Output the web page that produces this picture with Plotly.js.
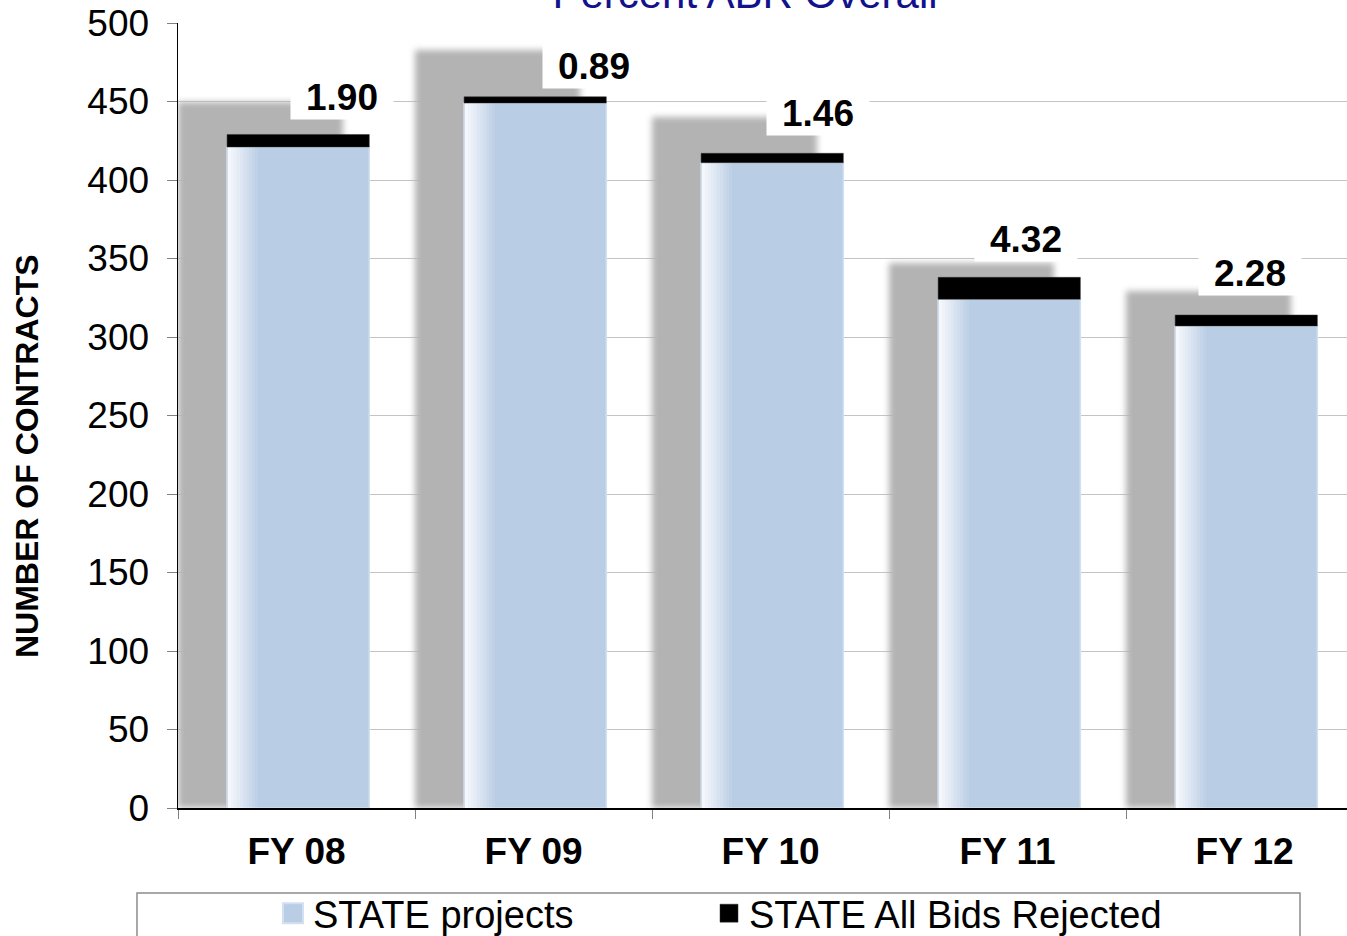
<!DOCTYPE html>
<html><head><meta charset="utf-8">
<script src="https://cdn.plot.ly/plotly-3.0.1.min.js"></script>
<style>html,body{margin:0;padding:0;background:#fff}#chart{width:1347px;height:936px}</style>
</head><body><div id="chart"></div>
<script>
// ---- data ----
const categories = ['FY 08', 'FY 09', 'FY 10', 'FY 11', 'FY 12'];
const stateProjects = [421, 449, 411, 324, 307];
const allBidsRejected = [8, 4, 6, 14, 7];
const percentLabels = ['1.90', '0.89', '1.46', '4.32', '2.28'];
const shadowHeights = [450, 483, 440, 347, 329];

// ---- layout/styling constants ----
const FONT = 'Liberation Sans, Arial, sans-serif';
const labelNudge = [[45, 37], [60, 31], [47, 40], [18, 38], [5, 42]]; // px
const totals = stateProjects.map((v, i) => v + allBidsRejected[i]);

const traces = [];
// drop shadow behind each column
traces.push({
  type: 'bar', x: categories, y: shadowHeights, offset: -0.5, width: 0.695,
  marker: {color: '#B3B3B3'}, showlegend: false, hoverinfo: 'skip'
});
// state projects
traces.push({
  type: 'bar', name: 'STATE projects', x: categories, y: stateProjects,
  offset: -0.293, width: 0.6,
  marker: {color: '#B9CDE5', line: {color: '#D3E0F1', width: 1.5}}
});
// left-edge highlight (gradient) on the state bars
const nStrips = 10, stripW = 0.0127;
for (let k = 0; k < nStrips; k++) {
  traces.push({
    type: 'bar', x: categories, y: stateProjects,
    offset: -0.293 + 0.004 + k * stripW, width: stripW,
    marker: {color: 'rgba(255,255,255,' + (0.85 * (1 - k / nStrips)).toFixed(3) + ')', line: {width: 0}},
    showlegend: false, hoverinfo: 'skip'
  });
}
// all bids rejected, stacked on top via base
traces.push({
  type: 'bar', name: 'STATE All Bids Rejected', x: categories, y: allBidsRejected,
  base: stateProjects, offset: -0.293, width: 0.6,
  marker: {color: '#000000', line: {color: '#333', width: 0.5}}
});

const annotations = categories.map((c, i) => ({
  x: c, y: totals[i], xref: 'x', yref: 'y',
  text: percentLabels[i], showarrow: false,
  xshift: labelNudge[i][0], yshift: labelNudge[i][1],
  xanchor: 'center', yanchor: 'middle',
  width: 102, height: 44, bgcolor: '#FFFFFF', borderpad: 0,
  font: {family: FONT, size: 37, color: '#000', weight: 'bold'}
}));
// y-axis title (placed like the original, below the axis centre)
annotations.push({
  xref: 'paper', yref: 'paper', x: 0, y: (808 - 456) / 785, xshift: -151,
  xanchor: 'center', yanchor: 'middle', textangle: -90, showarrow: false,
  text: 'NUMBER OF CONTRACTS',
  font: {family: FONT, size: 32, weight: 'bold', color: '#000'}
});

const layout = {
  width: 1347, height: 936,
  margin: {l: 178, r: 0, t: 23, b: 128, autoexpand: false},
  paper_bgcolor: '#fff', plot_bgcolor: '#fff',
  barmode: 'overlay', bargap: 0,
  font: {family: FONT, color: '#000'},
  title: {
    text: 'Percent ABR Overall',
    font: {family: FONT, size: 42, color: '#12128C'},
    x: 745 / 1347, xanchor: 'center', xref: 'container',
    yref: 'container', y: 0.9915, yanchor: 'bottom'
  },
  xaxis: {
    type: 'category', range: [-0.5, 4.432], fixedrange: true,
    tickson: 'boundaries', ticks: 'outside', ticklen: 9, tickcolor: '#808080', tickwidth: 1,
    showline: true, linecolor: '#000', linewidth: 1.5,
    showgrid: false, zeroline: false,
    tickfont: {family: FONT, size: 37, weight: 'bold', color: '#000'},
    ticklabelstandoff: 10
  },
  yaxis: {
    range: [0, 500], dtick: 50, tick0: 0,
    ticks: 'outside', ticklen: 10, tickcolor: '#808080', tickwidth: 1,
    showline: true, linecolor: '#000', linewidth: 1.5,
    showgrid: true, gridcolor: '#C4C4C4', gridwidth: 1, zeroline: false,
    tickfont: {family: FONT, size: 37, color: '#000'},
    ticklabelstandoff: 10
  },
  showlegend: true,
  legend: {
    orientation: 'h', xref: 'container', yref: 'container',
    x: 273 / 1347, xanchor: 'left', y: 1 - 882 / 936, yanchor: 'top',
    font: {family: FONT, size: 38, color: '#000'},
    bgcolor: 'rgba(0,0,0,0)', borderwidth: 0,
    entrywidth: 391, entrywidthmode: 'pixels', traceorder: 'normal'
  },
  shapes: [{
    type: 'rect', xref: 'paper', yref: 'paper',
    x0: (137 - 178) / 1169, x1: (1300 - 178) / 1169,
    y0: -(893 - 808) / 785, y1: -(980 - 808) / 785,
    line: {color: '#8C8C8C', width: 1.5}, fillcolor: 'rgba(0,0,0,0)', layer: 'below'
  }],
  annotations: annotations
};

Plotly.newPlot('chart', traces, layout, {displayModeBar: false, staticPlot: true}).then(() => {
  const tr = document.querySelectorAll('.barlayer .trace');
  if (tr.length) tr[0].style.filter = 'blur(3px)';
  // let the legend text overflow its computed box (no clipping of the last entry)
  document.querySelectorAll('.legend .scrollbox, .legend').forEach(el => {
    el.removeAttribute('clip-path');
    el.style.clipPath = 'none';
  });
  document.querySelectorAll('.legend .traces').forEach((g, i) => {
    g.querySelectorAll('.legendpoints path').forEach(p => {
      if (i === 0) {
        p.setAttribute('d', 'M10,10H-10V-10H10Z');
        p.style.fill = '#B9CDE5'; p.style.stroke = '#D3E0F1'; p.style.strokeWidth = '2px';
      } else {
        p.setAttribute('d', 'M9,9H-9V-9H9Z'); p.style.fill = '#000';
      }
    });
  });
});
</script>
</body></html>
